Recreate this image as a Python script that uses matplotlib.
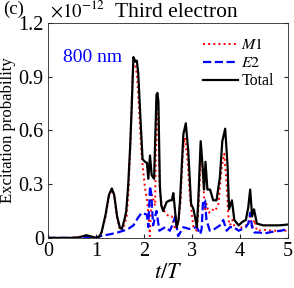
import numpy as np
import matplotlib
matplotlib.use('Agg')
import matplotlib.pyplot as plt

plt.rcParams['font.family'] = ['Liberation Serif', 'DejaVu Serif']
plt.rcParams['mathtext.fontset'] = 'stix'

# excitation probability, in units of 1e-12
t_total = [0, 0.5, 0.65, 0.8, 0.9, 1.0, 1.08, 1.12, 1.2, 1.27, 1.33, 1.38, 1.44, 1.5,
           1.54, 1.6, 1.63, 1.67, 1.71, 1.74, 1.78, 1.82, 1.85, 1.88, 1.92, 1.97, 2.02,
           2.06, 2.09, 2.125, 2.16, 2.21, 2.26, 2.28, 2.30, 2.33, 2.36, 2.40, 2.47, 2.54,
           2.58, 2.61, 2.68, 2.72, 2.75, 2.82, 2.87, 2.92, 2.98, 3.03, 3.10, 3.13, 3.18,
           3.22, 3.25, 3.28, 3.32, 3.375, 3.44, 3.51, 3.58, 3.63, 3.69, 3.74, 3.77, 3.83,
           3.88, 3.97, 4.05, 4.12, 4.17, 4.21, 4.25, 4.29, 4.35, 4.48, 4.6, 4.7, 4.8,
           4.9, 5.0]
total = [0, 0, 0.003, 0.015, 0.008, 0.0, 0.01, 0.035, 0.13, 0.24, 0.276, 0.24, 0.12, 0.055,
         0.05, 0.11, 0.15, 0.29, 0.5, 0.70, 1.01, 0.985, 0.99, 0.92, 0.70, 0.44, 0.425,
         0.42, 0.33, 0.46, 0.35, 0.33, 0.80, 0.81, 0.76, 0.29, 0.18, 0.15, 0.20, 0.21,
         0.21, 0.25, 0.06, 0.10, 0.21, 0.58, 0.64, 0.49, 0.19, 0.16, 0.06, 0.21, 0.54,
         0.40, 0.27, 0.425, 0.27, 0.27, 0.21, 0.21, 0.34, 0.54, 0.61, 0.40, 0.16, 0.21,
         0.10, 0.07, 0.09, 0.10, 0.17, 0.27, 0.12, 0.16, 0.08, 0.07, 0.07, 0.07, 0.07,
         0.072, 0.075]

t_m1 = [0, 0.5, 0.8, 0.9, 1.0, 1.08, 1.12, 1.2, 1.27, 1.33, 1.38, 1.44, 1.5, 1.55, 1.6,
        1.64, 1.68, 1.72, 1.76, 1.79, 1.83, 1.86, 1.9, 1.95, 2.02, 2.07, 2.11, 2.12, 2.16,
        2.19, 2.23, 2.25, 2.27, 2.30, 2.33, 2.37, 2.44, 2.52, 2.58, 2.65, 2.7, 2.76, 2.81,
        2.85, 2.9, 2.95, 3.0, 3.03, 3.1, 3.14, 3.19, 3.23, 3.27, 3.30, 3.35, 3.41, 3.48,
        3.55, 3.62, 3.67, 3.72, 3.76, 3.79, 3.84, 3.9, 3.95, 4.05, 4.12, 4.18, 4.21, 4.25,
        4.3, 4.35, 4.5, 4.7, 5.0]
m1 = [0, 0, 0.012, 0.006, 0, 0.008, 0.03, 0.12, 0.23, 0.27, 0.23, 0.11, 0.045, 0.04, 0.08,
      0.12, 0.27, 0.55, 0.9, 1.0, 0.95, 0.89, 0.7, 0.46, 0.28, 0.2, 0.07, 0.01, 0.24,
      0.22, 0.18, 0.5, 0.72, 0.6, 0.27, 0.18, 0.14, 0.12, 0.12, 0.045, 0.06, 0.2, 0.48,
      0.56, 0.46, 0.25, 0.12, 0.06, 0.04, 0.2, 0.49, 0.32, 0.15, 0.19, 0.14, 0.16, 0.15,
      0.19, 0.4, 0.47, 0.3, 0.1, 0.07, 0.1, 0.05, 0.05, 0.06, 0.07, 0.08, 0.12, 0.05,
      0.1, 0.04, 0.045, 0.04, 0.04]

t_e2 = [0, 0.7, 0.8, 0.9, 1.05, 1.08, 1.29, 1.45, 1.57, 1.67, 1.78, 1.87, 1.95, 2.06, 2.09,
        2.125, 2.15, 2.19, 2.26, 2.32, 2.44, 2.54, 2.6, 2.65, 2.71, 2.82, 2.94, 3.10, 3.17,
        3.2, 3.23, 3.27, 3.30, 3.37, 3.47, 3.58, 3.65, 3.72, 3.79, 3.86, 3.97, 4.05, 4.12,
        4.17, 4.21, 4.25, 4.3, 4.4, 4.5, 4.7, 4.85, 5.0]
e2 = [0, 0, 0.005, 0, 0, 0.01, 0.02, 0.03, 0.04, 0.05, 0.07, 0.11, 0.14, 0.13, 0.06,
      0.29, 0.25, 0.07, 0.15, 0.04, 0.06, 0.04, 0.08, 0.12, 0.01, 0.06, 0.05, 0.06, 0.02,
      0.05, 0.21, 0.21, 0.1, 0.04, 0.05, 0.07, 0.1, 0.04, 0.06, 0.06, 0.04, 0.05, 0.06,
      0.08, 0.14, 0.06, 0.03, 0.03, 0.025, 0.035, 0.04, 0.05]

fig = plt.figure(figsize=(2.94, 2.88), dpi=100)
ax = fig.add_axes([0.163, 0.174, 0.817, 0.746])

ax.plot(t_m1, m1, color='red', linestyle=':', linewidth=1.4, label='$M1$')
ax.plot(t_e2, e2, color='blue', linestyle='--', linewidth=1.6, label='$E2$')
ax.plot(t_total, total, color='black', linestyle='-', linewidth=1.6, label='Total')

ax.set_xlim(0, 5)
ax.set_ylim(0, 1.2)
ax.set_xticks([0, 1, 2, 3, 4, 5])
ax.set_yticks([0, 0.3, 0.6, 0.9, 1.2])
ax.set_yticklabels(['0', '0.3', '0.6', '0.9', '1.2'])
ax.tick_params(direction='in', labelsize=14.5, length=3, top=False, right=True,
               color='#262626', pad=3)
for s in ax.spines.values():
    s.set_color('#262626')
    s.set_linewidth(0.6)

ax.set_xlabel('$t/T$', fontsize=16, labelpad=2)
ax.set_ylabel('Excitation probability', fontsize=12, labelpad=2)

ax.legend(loc='upper right', frameon=False, fontsize=11.5, handlelength=2.2,
          handletextpad=0.2, labelspacing=0.12, borderaxespad=0.5)

ax.text(0.063, 0.82, '800 nm', color='blue', fontsize=14, transform=ax.transAxes)
fig.text(0.01, 0.951, '(c)', fontsize=13.5)
fig.text(0.17, 0.944, r'$\times10^{-12}$', fontsize=13.5)
fig.text(0.39, 0.94, 'Third electron', fontsize=15.5)

plt.savefig('out.png', dpi=100)
